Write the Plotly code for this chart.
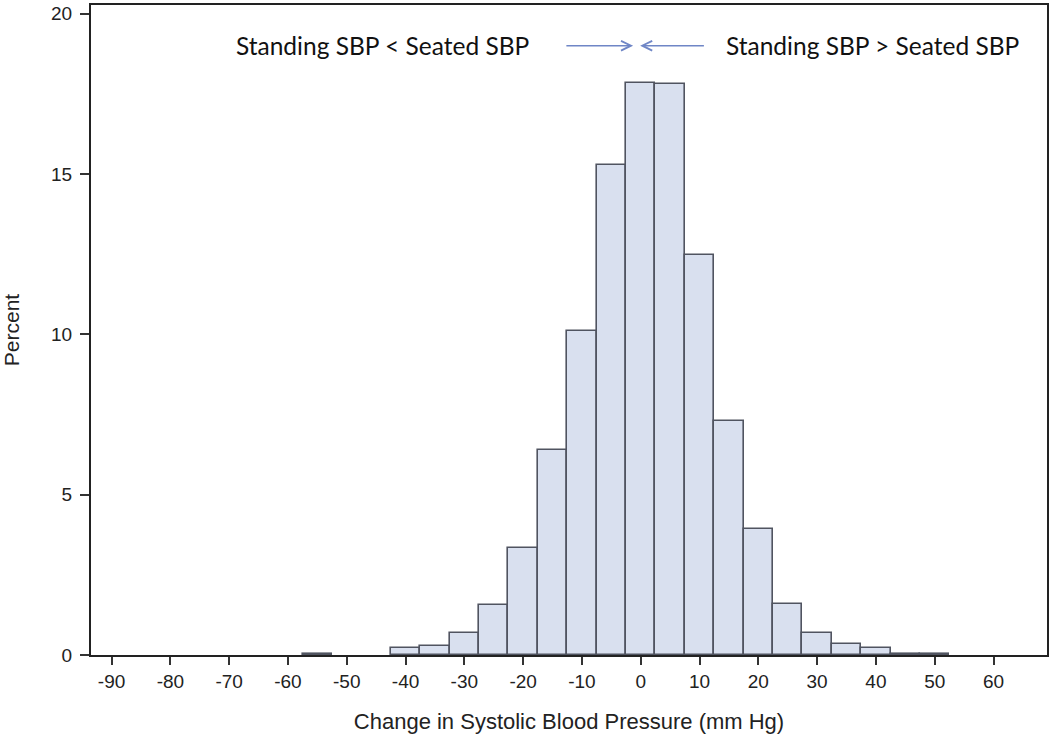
import plotly.graph_objects as go

# histogram bins (midpoints, width 5) and percent per bin
bin_mid = [-55, -40, -35, -30, -25, -20, -15, -10, -5, 0,
           5, 10, 15, 20, 25, 30, 35, 40, 45, 50]
percent = [0.03, 0.23, 0.29, 0.70, 1.55, 3.35, 6.40, 10.10, 15.28, 17.85,
           17.80, 12.48, 7.30, 3.92, 1.59, 0.70, 0.33, 0.21, 0.04, 0.04]
x_ticks = [-90, -80, -70, -60, -50, -40, -30, -20, -10, 0, 10, 20, 30, 40, 50, 60]
x_labels = [str(v) for v in x_ticks]
y_ticks = [0, 5, 10, 15, 20]
y_labels = [str(v) for v in y_ticks]

fig = go.Figure(go.Bar(
    x=bin_mid, y=percent, width=5,
    marker=dict(color="#d9e0ef", line=dict(color="#505460", width=1.6)),
))

sans = "Liberation Sans, Arial, sans-serif"
tick_font = dict(family=sans, size=19, color="#222")
fig.update_layout(
    width=1050, height=736,
    margin=dict(l=91, r=3, t=5, b=81),
    plot_bgcolor="white", paper_bgcolor="white",
    showlegend=False, bargap=0,
    xaxis=dict(
        range=[-93.5, 69.1], tickvals=x_ticks, ticktext=x_labels,
        ticks="outside", ticklen=8, tickwidth=2, tickcolor="#333",
        showline=True, linecolor="#222", linewidth=2, mirror=True,
        showgrid=False, zeroline=False, automargin=False,
        tickfont=tick_font,
        title=dict(text="Change in Systolic Blood Pressure (mm Hg)",
                   font=dict(family=sans, size=22, color="#222"), standoff=23),
    ),
    yaxis=dict(
        range=[0, 20.27], tickvals=y_ticks, ticktext=y_labels,
        ticks="outside", ticklen=9, tickwidth=2, tickcolor="#333",
        showline=True, linecolor="#222", linewidth=2, mirror=True,
        showgrid=False, zeroline=False, automargin=False,
        tickfont=tick_font, ticklabelstandoff=4,
        title=dict(text="Percent", font=dict(family=sans, size=21, color="#222"),
                   standoff=30),
    ),
)

ann_font = dict(family="Lato, Carlito, sans-serif", size=24.5, color="#111")
fig.add_annotation(x=-43.9, y=19.0, text="Standing SBP &lt; Seated SBP",
                   showarrow=False, font=ann_font, xanchor="center", yanchor="middle")
fig.add_annotation(x=39.5, y=19.0, text="Standing SBP &gt; Seated SBP",
                   showarrow=False, font=ann_font, xanchor="center", yanchor="middle")
fig.add_annotation(x=-1.3, y=19.0, ax=-12.9, ay=19.0, axref="x", ayref="y",
                   showarrow=True, arrowhead=5, arrowsize=1.3, arrowwidth=1.5,
                   arrowcolor="#6f86c6", text="")
fig.add_annotation(x=-0.1, y=19.0, ax=11.0, ay=19.0, axref="x", ayref="y",
                   showarrow=True, arrowhead=5, arrowsize=1.3, arrowwidth=1.5,
                   arrowcolor="#6f86c6", text="")

# drop the browser's default body margin so the figure sits at the page origin
fig.write_html("out.html", config={"displayModeBar": False},
               post_script="document.body.style.margin='0';")
